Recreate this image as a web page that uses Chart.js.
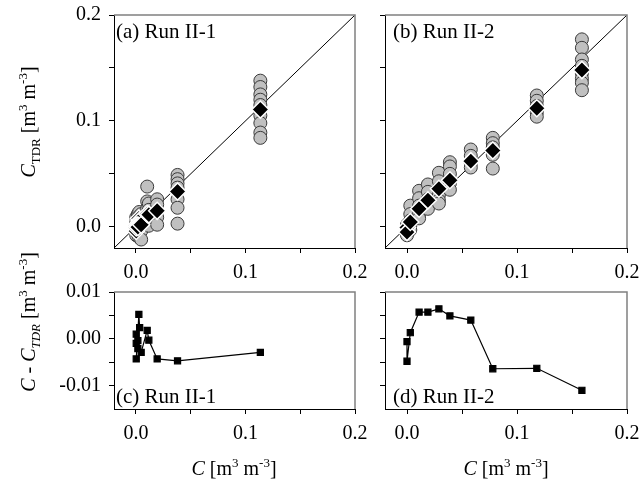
<!DOCTYPE html>
<html>
<head>
<meta charset="utf-8">
<script src="https://cdn.jsdelivr.net/npm/chart.js@4"></script>
<style>
body{margin:0;background:#fff;}
#wrap{position:relative;width:641px;height:481px;overflow:hidden;font-family:'Liberation Serif','Times New Roman',serif;color:#000;}
canvas{position:absolute;left:0;top:0;}
.ttl{position:absolute;font-size:20px;white-space:nowrap;line-height:1;}
.ttl sub,.ttl sup{font-size:13px;line-height:0;}
.rot{transform:translate(-50%,-50%) rotate(-90deg);}
.hor{transform:translate(-50%,-50%);}
</style>
</head>
<body>
<div id="wrap">
  <canvas id="pa" width="641" height="481"></canvas>
  <canvas id="pb" width="641" height="481"></canvas>
  <canvas id="pc" width="641" height="481"></canvas>
  <canvas id="pd" width="641" height="481"></canvas>
  <div class="ttl rot" style="left:28px;top:122px;"><i>C</i><sub>TDR</sub> [m<sup>3</sup> m<sup>-3</sup>]</div>
  <div class="ttl rot" style="left:28px;top:322px;"><i>C</i> - <i>C</i><sub><i>TDR</i></sub> [m<sup>3</sup> m<sup>-3</sup>]</div>
  <div class="ttl hor" style="left:234px;top:468px;"><i>C</i> [m<sup>3</sup> m<sup>-3</sup>]</div>
  <div class="ttl hor" style="left:506px;top:468px;"><i>C</i> [m<sup>3</sup> m<sup>-3</sup>]</div>
</div>
<script>
// donnees Run II-1 (moyennes + ecarts)
let cA = [0.0003, 0.0027, 0.0034, 0.0003, 0.0018, 0.0003, 0.0018, 0.0048, 0.0103, 0.0118, 0.0194, 0.038, 0.1136];
let meanA = [-0.004, 0.0079, 0.0058, 0.0013, 0.0014, -0.0007, -0.0003, 0.0019, 0.0121, 0.0115, 0.0151, 0.0333, 0.1107];
let diffA = [-0.0043, 0.0052, 0.0024, 0.0010, -0.0004, -0.0010, -0.0021, -0.0029, 0.0018, -0.0003, -0.0043, -0.0047, -0.0029];
// mesures individuelles Run II-1
let repCA = [0.0003, 0.0018, 0.003, 0.0048, 0.0103, 0.0118, 0.0194, 0.038, 0.1136];
let repA = [
    [0.009, 0.004, 0.0, -0.004, -0.008],
    [0.012, 0.007, 0.002, -0.003, -0.007],
    [0.014, 0.010, 0.005, -0.002, -0.010],
    [0.012, 0.006, -0.004, -0.012],
    [0.038, 0.024, 0.017, 0.010, 0.004],
    [0.022, 0.016, 0.008, 0.001],
    [0.026, 0.021, 0.015, 0.009, 0.002],
    [0.049, 0.045, 0.041, 0.037, 0.026, 0.018, 0.003],
    [0.138, 0.132, 0.125, 0.120, 0.115, 0.105, 0.098, 0.089, 0.084]
];
// donnees Run II-2
let cB = [0.000, 0.000, 0.003, 0.011, 0.019, 0.029, 0.039, 0.058, 0.078, 0.118, 0.159];
let meanB = [-0.0006, -0.005, 0.0045, 0.017, 0.025, 0.036, 0.044, 0.062, 0.072, 0.112, 0.148];
let diffB = [-0.0006, -0.0048, 0.0013, 0.0057, 0.0057, 0.0064, 0.0049, 0.0040, -0.0064, -0.0063, -0.0110];
let repCB = [0.0, 0.003, 0.011, 0.019, 0.029, 0.039, 0.058, 0.078, 0.118, 0.159];
let repB = [
    [0.002, -0.002, -0.006, -0.008],
    [0.020, 0.012, 0.006, 0.001, -0.003],
    [0.034, 0.027, 0.020, 0.012, 0.008],
    [0.040, 0.033, 0.026, 0.020, 0.017],
    [0.051, 0.043, 0.036, 0.030, 0.025, 0.022],
    [0.061, 0.057, 0.050, 0.041, 0.035],
    [0.073, 0.067, 0.060, 0.056],
    [0.084, 0.079, 0.075, 0.068, 0.055],
    [0.124, 0.119, 0.114, 0.108, 0.104],
    [0.177, 0.169, 0.158, 0.152, 0.145, 0.140, 0.136, 0.129]
];
// axes
let xRange = [-0.02, 0.2];
let xTicks = [0, 0.05, 0.1, 0.15, 0.2];
let yTopRange = [-0.02, 0.2];
let yTopTicks = [0, 0.05, 0.1, 0.15, 0.2];
let yBotRange = [-0.015, 0.01];
let yBotTicks = [-0.01, -0.005, 0, 0.005, 0.01];
let oneToOne = [-0.02, 0.2];

Chart.defaults.font.family = "'Liberation Serif', 'Times New Roman', serif";
Chart.defaults.font.size = 20;
Chart.defaults.color = '#000';

// largeur fixe de l'axe y (assez pour "-0.01")
const Y_W = 62;

// cadre gris en haut et a droite + nom du panneau
const framePlugin = {
    id: 'frame',
    afterDraw(chart, args, opts) {
        let a = chart.chartArea;
        let ctx = chart.ctx;
        ctx.save();
        ctx.strokeStyle = '#808080';
        ctx.lineWidth = 1.5;
        ctx.beginPath();
        ctx.moveTo(a.left, a.top);
        ctx.lineTo(a.right, a.top);
        ctx.lineTo(a.right, a.bottom);
        ctx.stroke();
        ctx.fillStyle = '#000';
        ctx.font = "21px 'Liberation Serif'";
        ctx.textBaseline = 'alphabetic';
        let y = opts.fromTop ? a.top + opts.dy : a.bottom - opts.dy;
        ctx.fillText(opts.text, a.left + opts.dx, y);
        ctx.restore();
    }
};

function isMajor(v, step) {
    let k = v / step;
    return Math.abs(k - Math.round(k)) < 1e-6;
}

function axis(range, ticks, major, digits, showLabels, isX) {
    return {
        type: 'linear',
        min: range[0],
        max: range[1],
        afterBuildTicks: (s) => { s.ticks = ticks.map(v => ({value: v})); },
        afterFit: (s) => {
            if (isX) { s.height = 40; s.paddingLeft = 0; s.paddingRight = 0; }
            else { s.width = Y_W; s.paddingTop = 0; s.paddingBottom = 0; }
        },
        ticks: {
            display: showLabels,
            padding: 8,
            callback: (v) => isMajor(v, major) ? v.toFixed(digits) : ''
        },
        grid: {drawOnChartArea: false, drawTicks: true, tickLength: 5, color: '#000'},
        border: {color: '#000', width: 1}
    };
}

function pts(xs, ys) {
    return xs.map((x, i) => ({x: x, y: ys[i]}));
}

function repPts(xs, groups) {
    let out = [];
    groups.forEach((g, i) => g.forEach(v => out.push({x: xs[i], y: v})));
    return out;
}

function makeChart(id, area, datasets, yAx, label, fromTop, dx, dy) {
    return new Chart(document.getElementById(id), {
        type: 'scatter',
        data: {datasets: datasets},
        options: {
            responsive: false,
            animation: false,
            events: [],
            layout: {padding: {left: area[0] - Y_W, right: 641 - area[1], top: area[2], bottom: 481 - area[3] - 40}},
            scales: {x: axis(xRange, xTicks, 0.1, 1, true, true), y: yAx},
            plugins: {
                legend: {display: false},
                tooltip: {enabled: false},
                frame: {text: label, fromTop: fromTop, dx: dx, dy: dy}
            }
        },
        plugins: [framePlugin]
    });
}

function scatterSets(cMean, mean, repC, rep) {
    return [
        {data: pts(cMean, mean), pointStyle: 'rectRot', pointRadius: 8.5, backgroundColor: '#000', borderColor: '#fff', borderWidth: 1.5},
        {data: repPts(repC, rep), pointStyle: 'circle', pointRadius: 6.5, backgroundColor: '#c0c0c0', borderColor: '#3a3a3a', borderWidth: 1},
        {data: pts(oneToOne, oneToOne), showLine: true, pointRadius: 0, borderColor: '#000', borderWidth: 1}
    ];
}

function diffSet(c, d) {
    return [{data: pts(c, d), showLine: true, pointStyle: 'rect', pointRadius: 4.3, backgroundColor: '#000', borderColor: '#000', borderWidth: 1.2}];
}

// (a) et (b) : C_TDR contre C
let chartA = makeChart('pa', [114, 355, 15, 248], scatterSets(cA, meanA, repCA, repA),
    axis(yTopRange, yTopTicks, 0.1, 1, true, false), '(a) Run II-1', true, 2, 23);
let chartB = makeChart('pb', [385, 627, 15, 248], scatterSets(cB, meanB, repCB, repB),
    axis(yTopRange, yTopTicks, 0.1, 1, false, false), '(b) Run II-2', true, 8, 23);
// (c) et (d) : ecarts
let chartC = makeChart('pc', [114, 355, 292, 409], diffSet(cA, diffA),
    axis(yBotRange, yBotTicks, 0.01, 2, true, false), '(c) Run II-1', false, 2, 6);
let chartD = makeChart('pd', [385, 627, 292, 409], diffSet(cB, diffB),
    axis(yBotRange, yBotTicks, 0.01, 2, false, false), '(d) Run II-2', false, 8, 6);
</script>
</body>
</html>
